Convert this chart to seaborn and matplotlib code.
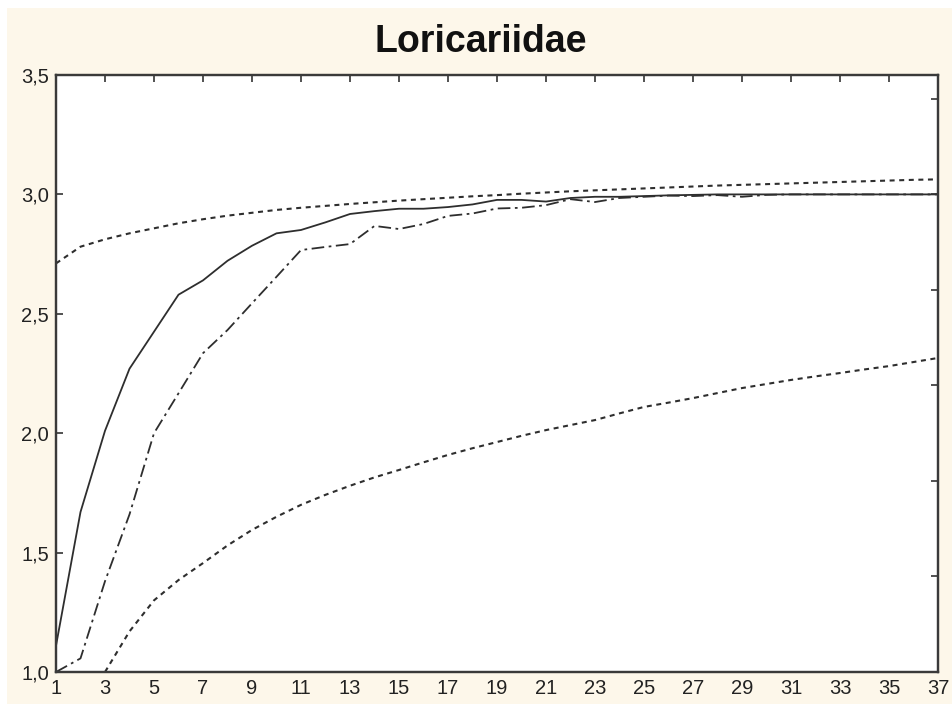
import numpy as np
import pandas as pd
import matplotlib
matplotlib.use("Agg")
import matplotlib.pyplot as plt
import seaborn as sns
from matplotlib.ticker import FuncFormatter
from matplotlib.patches import Rectangle

# ---- data ----
samples = list(range(1, 38))

observed = [1.11, 1.67, 2.01, 2.27, 2.425, 2.58, 2.64, 2.722, 2.785, 2.837,
            2.851, 2.883, 2.918, 2.93, 2.94, 2.94, 2.947, 2.958, 2.977, 2.977,
            2.97, 2.985, 2.99, 2.99, 2.993, 2.996, 2.998, 3.0, 3.0, 3.0,
            3.0, 3.0, 3.0, 3.0, 3.0, 3.0, 3.0]

estimator = [1.0, 1.057, 1.38, 1.66, 2.0, 2.167, 2.335, 2.432, 2.544, 2.655,
             2.767, 2.78, 2.792, 2.868, 2.855, 2.876, 2.91, 2.92, 2.941, 2.944,
             2.955, 2.98, 2.968, 2.985, 2.99, 2.995, 2.993, 2.997, 2.99, 2.998,
             3.0, 3.0, 3.0, 3.0, 3.0, 3.0, 3.0]

upper_ci = [2.711, 2.781, 2.812, 2.837, 2.858, 2.879, 2.896, 2.911, 2.923, 2.935,
            2.944, 2.952, 2.960, 2.967, 2.974, 2.980, 2.986, 2.992, 2.997, 3.003,
            3.008, 3.013, 3.017, 3.021, 3.025, 3.029, 3.033, 3.037, 3.040, 3.043,
            3.046, 3.049, 3.052, 3.055, 3.058, 3.061, 3.063]

lower_ci = [np.nan, np.nan, 1.0, 1.17, 1.30, 1.385, 1.456, 1.53, 1.595, 1.65,
            1.70, 1.742, 1.78, 1.815, 1.846, 1.878, 1.909, 1.937, 1.963, 1.989,
            2.013, 2.034, 2.055, 2.083, 2.11, 2.128, 2.147, 2.168, 2.189, 2.206,
            2.223, 2.238, 2.252, 2.267, 2.281, 2.298, 2.315]

title = "Loricariidae"
x_ticks = list(range(1, 38, 2))
y_ticks = [1.0, 1.5, 2.0, 2.5, 3.0, 3.5]
right_ticks = [1.0, 1.4, 1.8, 2.2, 2.6, 3.0, 3.4]

df = pd.DataFrame({"x": samples, "observed": observed, "estimator": estimator,
                   "upper": upper_ci, "lower": lower_ci})

sns.set_style("white")
plt.rcParams["font.family"] = ["Liberation Sans", "DejaVu Sans"]

cream = "#fdf7ea"
fig = plt.figure(figsize=(9.52, 7.04), dpi=100)
fig.patch.set_facecolor("white")
fig.patches.append(Rectangle((7 / 952, 0), 1, 1 - 8 / 704, transform=fig.transFigure,
                             facecolor=cream, edgecolor="none", zorder=-10))

ax = fig.add_axes([56 / 952, 32 / 704, (938 - 56) / 952, (672 - 75) / 704])
ax.set_facecolor("white")

lc = "#2e2e2e"
sns.lineplot(data=df, x="x", y="observed", ax=ax, color=lc, lw=1.3)
sns.lineplot(data=df, x="x", y="estimator", ax=ax, color=lc, lw=1.3)
ax.lines[-1].set_dashes([7, 2.5, 1.5, 2.5])
sns.lineplot(data=df, x="x", y="upper", ax=ax, color=lc, lw=1.5)
ax.lines[-1].set_dashes([2.4, 2.2])
sns.lineplot(data=df, x="x", y="lower", ax=ax, color=lc, lw=1.5)
ax.lines[-1].set_dashes([2.4, 2.2])

ax.set_xlim(1, 37)
ax.set_ylim(1.0, 3.5)
ax.set_xlabel("")
ax.set_ylabel("")
ax.set_xticks(x_ticks)
ax.set_yticks(y_ticks)
ax.yaxis.set_major_formatter(FuncFormatter(lambda v, p: f"{v:.1f}".replace(".", ",")))
ax.tick_params(axis="both", direction="in", length=5, width=1.2, color="#333333",
               labelsize=14.5, labelcolor="#222222", top=True, right=False)
ax.tick_params(axis="x", pad=5)
ax.tick_params(axis="y", pad=5)

# right-side ticks (different spacing, no labels)
ax2 = ax.twinx()
ax2.set_ylim(1.0, 3.5)
ax2.set_yticks(right_ticks)
ax2.set_yticklabels([])
ax2.tick_params(axis="y", direction="in", length=5, width=1.2, color="#333333")
for a in (ax, ax2):
    for s in a.spines.values():
        s.set_visible(True)
        s.set_color("#3a3a3a")
        s.set_linewidth(1.6)

fig.text(0.505, 1 - 42 / 704, title, ha="center", va="center",
         fontsize=27, fontweight="bold", color="#111111")

fig.savefig("out.png", dpi=100, facecolor=fig.get_facecolor())
